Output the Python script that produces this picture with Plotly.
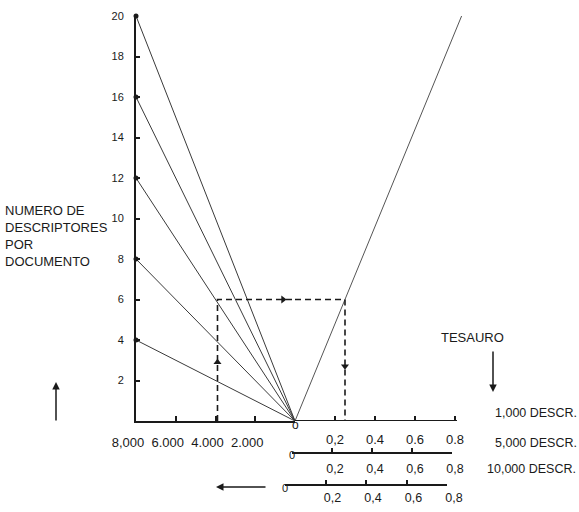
import plotly.graph_objects as go

W, H = 579, 512

# ---- data ----
doc_max = 8000                       # documents (left scale)
desc_per_doc = [4, 8, 12, 16, 20]    # descriptors per document at 8,000 docs
tesauro_x = [0, 0.833]               # fraction (right scale)
tesauro_y = [0, 20]
example_docs = 3900                  # dashed example
example_frac = 0.25
example_desc = 6

left_ticks = [2000, 4000, 6000, 8000]
left_labels = ["2.000", "4.000", "6.000", "8,000"]
y_ticks = [2, 4, 6, 8, 10, 12, 14, 16, 18, 20]
row1_ticks = [0.2, 0.4, 0.6, 0.8]
row1_labels = ["0,2", "0.4", "0.6", "0.8"]
row2_ticks = [0, 0.2, 0.4, 0.6, 0.8]
row2_labels = ["", "0,2", "0,4", "0,6", "0,8"]
row3_labels = ["", "0,2", "0,4", "0,6", "0,8"]
thesaurus_sizes = ["1,000 DESCR.", "5,000 DESCR.", "10,000 DESCR."]

INK = "#1a1a1a"
FONT = "Liberation Sans, Arial, sans-serif"

def px(x):
    return x / W

def py(y):
    return 1 - y / H

fig = go.Figure()

# left fan lines
for v in desc_per_doc:
    fig.add_trace(go.Scatter(
        x=[doc_max, 0], y=[v, 0], xaxis="x", yaxis="y", mode="lines",
        line=dict(color="#3a3a3a", width=1), hoverinfo="skip", showlegend=False))
fig.add_trace(go.Scatter(
    x=[doc_max] * len(desc_per_doc), y=desc_per_doc, xaxis="x", yaxis="y",
    mode="markers", marker=dict(color=INK, size=5), cliponaxis=False,
    hoverinfo="skip", showlegend=False))

# thesaurus line (right)
fig.add_trace(go.Scatter(
    x=tesauro_x, y=tesauro_y, xaxis="x2", yaxis="y", mode="lines",
    line=dict(color="#555555", width=1), hoverinfo="skip", showlegend=False))

# dashed example path
dash = dict(color=INK, width=1.6, dash="6px,4px")
fig.add_trace(go.Scatter(
    x=[example_docs, example_docs, 0], y=[0, example_desc, example_desc],
    xaxis="x", yaxis="y", mode="lines", line=dash,
    hoverinfo="skip", showlegend=False))
fig.add_trace(go.Scatter(
    x=[0, example_frac, example_frac], y=[example_desc, example_desc, 0],
    xaxis="x2", yaxis="y", mode="lines", line=dash,
    hoverinfo="skip", showlegend=False))
# arrow heads on the dashed path
fig.add_trace(go.Scatter(
    x=[example_docs, 600], y=[2.9, example_desc], xaxis="x", yaxis="y",
    mode="markers", marker=dict(symbol=["triangle-up", "triangle-right"],
                                size=7, color=INK),
    hoverinfo="skip", showlegend=False))
fig.add_trace(go.Scatter(
    x=[example_frac], y=[2.7], xaxis="x2", yaxis="y",
    mode="markers", marker=dict(symbol="triangle-down", size=7, color=INK),
    hoverinfo="skip", showlegend=False))

# invisible traces so lower scales render
for ax in ["x3", "x4"]:
    fig.add_trace(go.Scatter(x=[0, 0.8], y=[0, 0], xaxis=ax, yaxis="y",
                             mode="lines", opacity=0, hoverinfo="skip",
                             showlegend=False))

tickfont = dict(family=FONT, size=13, color=INK)
lowfont = dict(family=FONT, size=12.5, color=INK)

fig.update_layout(
    width=W, height=H,
    margin=dict(l=0, r=0, t=0, b=0, autoexpand=False),
    paper_bgcolor="white", plot_bgcolor="rgba(0,0,0,0)",
    showlegend=False,
    font=dict(family=FONT, color=INK, size=13),
    yaxis=dict(domain=[py(421), py(16)], range=[0, 20], anchor="x",
               showgrid=False, zeroline=False, showline=True,
               linecolor=INK, linewidth=2, ticks="inside", ticklen=4,
               tickwidth=1.5, tickcolor=INK, tickvals=y_ticks,
               tickfont=dict(family=FONT, size=11, color=INK),
               ticklabelstandoff=8),
    xaxis=dict(domain=[px(136), px(295)], range=[doc_max, 0], anchor="y",
               showgrid=False, zeroline=False, showline=True,
               linecolor=INK, linewidth=2, ticks="inside", ticklen=5,
               tickwidth=1.5, tickcolor=INK, tickvals=left_ticks,
               ticktext=left_labels, tickfont=tickfont,
               ticklabelstandoff=8, ticklabelshift=8),
    xaxis2=dict(domain=[px(295), px(463)], range=[0, 0.84], anchor="y",
                showgrid=False, zeroline=False, showline=False,
                ticks="inside", ticklen=5, tickwidth=1.5, tickcolor=INK,
                tickvals=row1_ticks, ticktext=row1_labels, tickfont=tickfont,
                ticklabelstandoff=9),
    xaxis3=dict(domain=[px(292), px(452)], range=[0, 0.8], anchor="free",
                position=py(453), showgrid=False, zeroline=False,
                showline=True, linecolor=INK, linewidth=1.5,
                ticks="inside", ticklen=4, tickwidth=1.5, tickcolor=INK,
                tickvals=row2_ticks, ticktext=row2_labels, tickfont=lowfont,
                ticklabelstandoff=4, ticklabelshift=3),
    xaxis4=dict(domain=[px(285), px(447)], range=[0, 0.8], anchor="free",
                position=py(485), showgrid=False, zeroline=False,
                showline=True, linecolor=INK, linewidth=1.5,
                ticks="inside", ticklen=4, tickwidth=1.5, tickcolor=INK,
                tickvals=row2_ticks, ticktext=row3_labels, tickfont=lowfont,
                ticklabelstandoff=1, ticklabelshift=7),
)

# axis line of the right main scale (ends at 0.8)
fig.add_shape(type="line", xref="x2", yref="y", x0=0, x1=0.81, y0=0, y1=0,
              line=dict(color=INK, width=2))

ann = []
# zero labels
ann.append(dict(x=0, xref="x2", y=py(434), yref="paper", text="o",
                showarrow=False, font=dict(size=12, color=INK)))
ann.append(dict(x=0, xref="x3", y=py(463), yref="paper", text="0",
                showarrow=False, font=dict(size=11, color=INK)))
ann.append(dict(x=0, xref="x4", y=py(496), yref="paper", text="0",
                showarrow=False, font=dict(size=11, color=INK)))
# y title
ann.append(dict(x=px(3), y=py(236), xref="paper", yref="paper",
                xanchor="left", yanchor="middle", align="left",
                text="NUMERO DE<br>DESCRIPTORES<br>POR<br>DOCUMENTO",
                showarrow=False, font=dict(size=13, color=INK)))
# TESAURO
ann.append(dict(x=px(506), y=py(337), xref="paper", yref="paper",
                text="TESAURO", showarrow=False, font=dict(size=13, color=INK)))
# thesaurus size labels
for lab, yy, xx in zip(thesaurus_sizes, [422, 452, 478], [493, 493, 485]):
    ann.append(dict(x=px(xx), y=py(yy), xref="paper", yref="paper",
                    xanchor="left", text=lab, showarrow=False,
                    font=dict(size=12.5, color=INK)))
# arrows
arrow = dict(showarrow=True, arrowhead=2, arrowsize=1, arrowwidth=1.5,
             arrowcolor=INK, text="", xref="paper", yref="paper",
             axref="pixel", ayref="pixel")
ann.append(dict(arrow, x=px(56), y=py(382), ax=0, ay=40))
ann.append(dict(arrow, x=px(493), y=py(392), ax=0, ay=-42))
ann.append(dict(arrow, x=px(216), y=py(487), ax=51, ay=0))

fig.update_layout(annotations=ann)

fig.write_html(
    "out.html",
    config={"displayModeBar": False},
    post_script="document.body.style.margin='0';"
                "document.body.style.overflow='hidden';",
)
